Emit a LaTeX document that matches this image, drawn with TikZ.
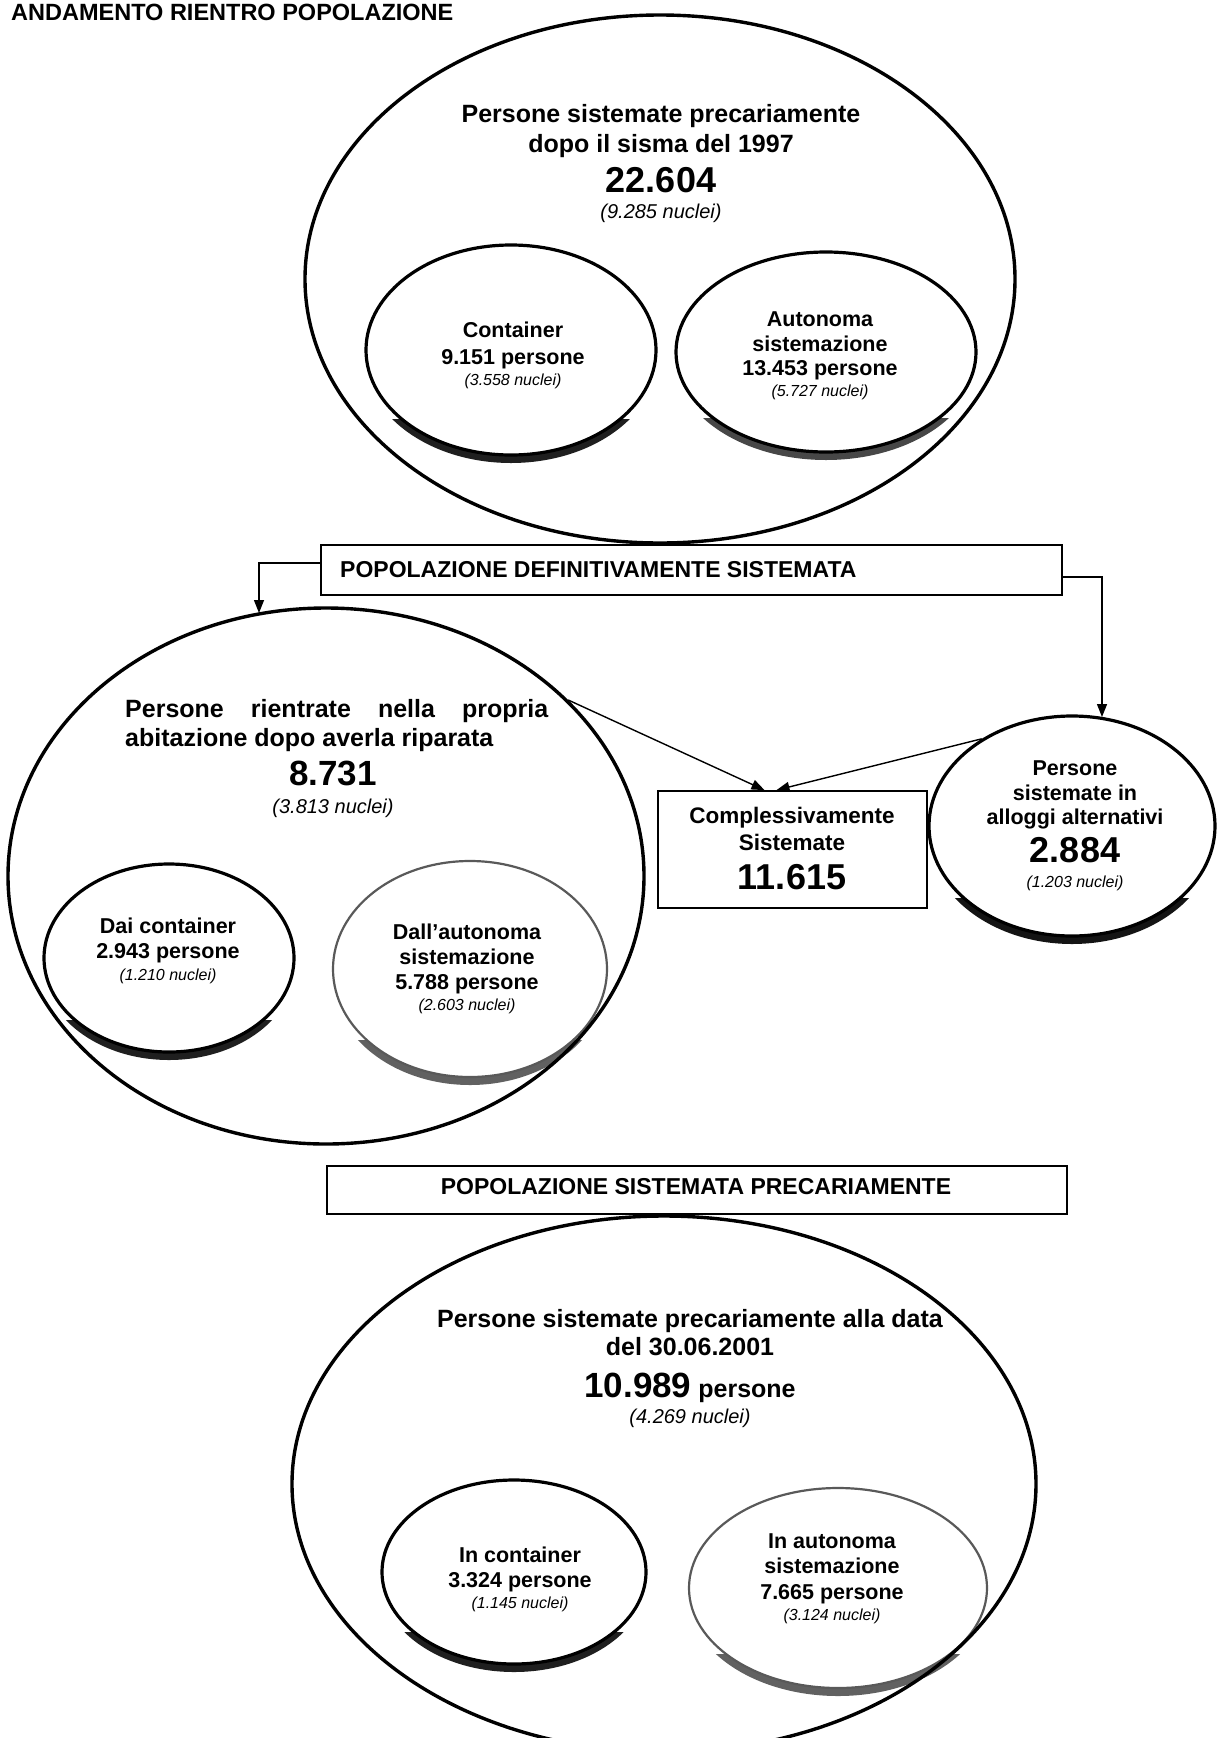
\documentclass[tikz,border=0pt]{standalone}
\usepackage{fontspec}
\setmainfont{Liberation Sans}
\usetikzlibrary{shapes.geometric,arrows.meta}

% font size helper (size in pt)
\newcommand\fs[1]{\fontsize{#1}{#1}\selectfont}

% an oval with a dark crescent shadow under its lower rim
% #1 name, #2 cx, #3 cy, #4 rx, #5 ry, #6 shadow fill, #7 oval style
\newcommand\bubble[7]{%
  \pgfmathsetmacro\shcut{#3+0.66*#5}%
  \pgfmathsetmacro\shl{#2-#4-30}%
  \pgfmathsetmacro\shr{#2+#4+30}%
  \pgfmathsetmacro\shb{#3+#5+30}%
  \pgfmathsetmacro\shy{#3+6}%
  \pgfmathsetmacro\shrx{#4+2}%
  \pgfmathsetmacro\shry{#5+2}%
  \begin{scope}
    \clip (\shl,\shcut) rectangle (\shr,\shb);
    \fill[#6] (#2,\shy) ellipse [x radius=\shrx, y radius=\shry];
  \end{scope}
  \pgfmathsetmacro\shw{2*#4}%
  \pgfmathsetmacro\shh{2*#5}%
  \node[#7, minimum width=\shw pt, minimum height=\shh pt] (#1) at (#2,#3) {};
}

\tikzset{
  bigoval/.style={ellipse, draw, line width=3.4pt, inner sep=0pt},
  solidoval/.style={ellipse, draw, fill=white, line width=3.2pt, inner sep=0pt},
  greyoval/.style={ellipse, draw=black!65, fill=white, line width=2.2pt, inner sep=0pt},
  frame/.style={rectangle, draw, line width=1.8pt, inner sep=0pt},
  arr/.style={line width=1.4pt, -{Triangle[length=13pt,width=10pt]}},
  title/.style={inner sep=0pt, anchor=base west, font=\bfseries\fs{23.5}},
  caps/.style={inner sep=0pt, anchor=base, font=\bfseries\fs{23}},
  head/.style={inner sep=0pt, anchor=base, font=\bfseries\fs{25}},
  big/.style={inner sep=0pt, anchor=base, font=\bfseries\fs{36}},
  sub/.style={inner sep=0pt, anchor=base, font=\itshape\fs{20}},
  item/.style={inner sep=0pt, anchor=base, font=\bfseries\fs{21.5}},
  note/.style={inner sep=0pt, anchor=base, font=\itshape\fs{16}},
}

\begin{document}
\begin{tikzpicture}[x=1pt,y=-1pt]
\useasboundingbox[fill=white] (0,0) rectangle (1216,1738);

\node[title] (ttl) at (11,20) {ANDAMENTO RIENTRO POPOLAZIONE};

% ---------- temporary accommodation after the 1997 earthquake ----------
\bubble{contT}{511}{350}{145}{105}{black!88}{solidoval}
\bubble{autT}{826}{352}{150}{100}{black!72}{solidoval}
\node[bigoval, minimum width=710pt, minimum height=528pt] (topE) at (660,279) {};

\node[head] (topA) at (661,122) {Persone sistemate precariamente};
\node[head] (topB) at (661,152) {dopo il sisma del 1997};
\node[big]  (topC) at (661,192) {22.604};
\node[sub]  (topD) at (661,218) {(9.285 nuclei)};

\node[item] (ctA) at (513,337) {Container};
\node[item] (ctB) at (513,364) {9.151 persone};
\node[note] (ctC) at (513,385) {(3.558 nuclei)};

\node[item] (atA) at (820,326) {Autonoma};
\node[item] (atB) at (820,351) {sistemazione};
\node[item] (atC) at (820,375) {13.453 persone};
\node[note] (atD) at (820,396) {(5.727 nuclei)};

% ---------- definitively settled ----------
\node[frame, minimum width=741pt, minimum height=50pt] (box1) at (691.5,570) {};
\node[caps, anchor=base west] (box1t) at (340,577) {POPOLAZIONE DEFINITIVAMENTE SISTEMATA};

\bubble{contM}{169}{958}{125}{94}{black!88}{solidoval}
\bubble{autM}{470}{969}{137}{108}{black!62}{greyoval}
\node[bigoval, minimum width=636pt, minimum height=536pt] (leftE) at (326,876) {};

\node[inner sep=0pt, anchor=base west, font=\bfseries\fs{25}] (lfA) at (125,717)
  {\makebox[423pt][s]{Persone\hfill rientrate\hfill nella\hfill propria}};
\node[head, anchor=base west] (lfB) at (125,746) {abitazione dopo averla riparata};
\node[big, font=\bfseries\fs{35}] (lfC) at (333,785) {8.731};
\node[sub] (lfD) at (333,813) {(3.813 nuclei)};

\node[item] (cmA) at (168,933) {Dai container};
\node[item] (cmB) at (168,958) {2.943 persone};
\node[note] (cmC) at (168,980) {(1.210 nuclei)};

\node[item] (amA) at (467,939) {Dall'autonoma};
\node[item] (amB) at (467,964) {sistemazione};
\node[item] (amC) at (467,989) {5.788 persone};
\node[note] (amD) at (467,1010) {(2.603 nuclei)};

\bubble{altE}{1072}{826}{143}{110}{black!92}{solidoval}
\node[item] (alA) at (1075,775) {Persone};
\node[item] (alB) at (1075,800) {sistemate in};
\node[item] (alC) at (1075,824) {alloggi alternativi};
\node[big]  (alD) at (1075,862) {2.884};
\node[note] (alE) at (1075,887) {(1.203 nuclei)};

\node[frame, minimum width=269pt, minimum height=117pt] (sumbox) at (792.5,849.5) {};
\node[item, font=\bfseries\fs{22.5}] (smA) at (792,823) {Complessivamente};
\node[item, font=\bfseries\fs{22.5}] (smB) at (792,850) {Sistemate};
\node[big] (smC) at (792,889) {11.615};

% connectors
\coordinate (lturn) at (259,563);
\coordinate (ltip)  at (259,613);
\coordinate (rturn) at (1102,577);
\coordinate (rtip)  at (1102,717);
\draw[arr] (box1.west |- lturn) -- (lturn) -- (ltip);
\draw[arr] (box1.east |- rturn) -- (rturn) -- (rtip);
\draw[arr] (leftE.36) -- ([xshift=-28pt]sumbox.north);
\draw[arr] (altE.136) -- ([xshift=-16pt]sumbox.north);

% ---------- still in temporary accommodation ----------
\node[frame, minimum width=740pt, minimum height=48pt] (box2) at (697,1190) {};
\node[caps] (box2t) at (696,1194) {POPOLAZIONE SISTEMATA PRECARIAMENTE};

\bubble{contB}{514}{1572}{132}{92}{black!88}{solidoval}
\bubble{autB}{838}{1588}{149}{100}{black!62}{greyoval}
\node[bigoval, minimum width=744pt, minimum height=536pt] (botE) at (664,1484) {};

\node[head] (btA) at (690,1327) {Persone sistemate precariamente alla data};
\node[head] (btB) at (690,1355) {del 30.06.2001};
\node[head] (btC) at (690,1397) {{\fs{35}10.989} persone};
\node[sub]  (btD) at (690,1423) {(4.269 nuclei)};

\node[item] (cbA) at (520,1562) {In container};
\node[item] (cbB) at (520,1587) {3.324 persone};
\node[note] (cbC) at (520,1608) {(1.145 nuclei)};

\node[item] (abA) at (832,1548) {In autonoma};
\node[item] (abB) at (832,1573) {sistemazione};
\node[item] (abC) at (832,1599) {7.665 persone};
\node[note] (abD) at (832,1620) {(3.124 nuclei)};
\end{tikzpicture}
\end{document}
